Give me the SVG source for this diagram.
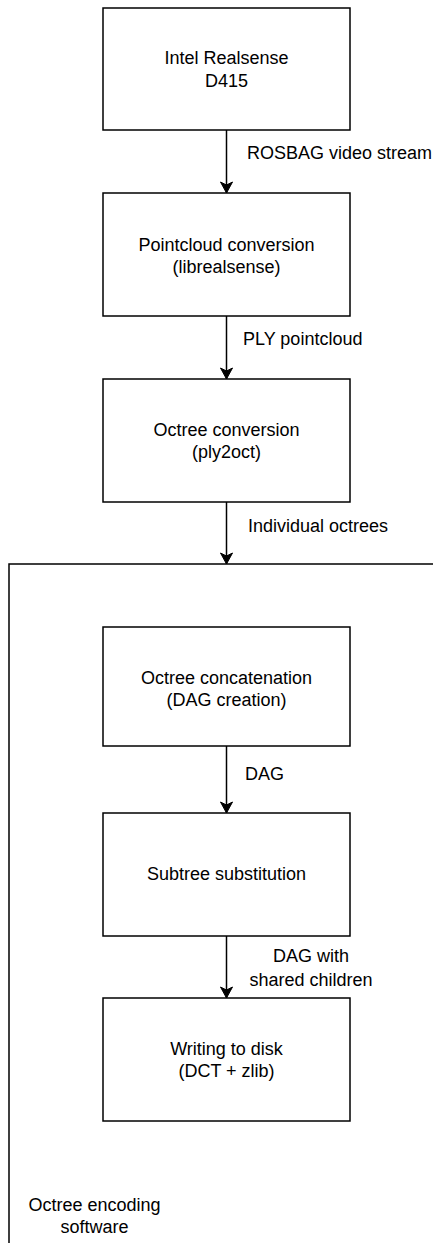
<svg xmlns="http://www.w3.org/2000/svg" width="433" height="1243" viewBox="0 0 433 1243">
  <style>
    .box { fill: #ffffff; stroke: #000000; stroke-width: 1.5; }
    .container { fill: none; stroke: #000000; stroke-width: 1.5; }
    .edge { fill: none; stroke: #000000; stroke-width: 1.5; }
    text { font-family: "Liberation Sans", Arial, sans-serif; font-size: 18px; fill: #000000; }
    .c { text-anchor: middle; }
  </style>
  <defs>
    <marker id="arrow" markerUnits="userSpaceOnUse" viewBox="-12 -7 14 14" markerWidth="14" markerHeight="14" refX="0" refY="0" orient="auto">
      <path d="M-11,-6 L0,0 L-11,6 L-8,0 Z" fill="#000000" stroke="#000000" stroke-width="1"/>
    </marker>
  </defs>
  <rect width="433" height="1243" fill="#ffffff"/>

  <g id="container">
    <rect class="container" x="9" y="564" width="600" height="800"/>
    <text class="c" x="94.5" y="1211">Octree encoding</text>
    <text class="c" x="94.5" y="1233">software</text>
  </g>

  <g id="connectors">
    <line class="edge" x1="226.5" y1="130" x2="226.5" y2="193" marker-end="url(#arrow)"/>
    <text x="247" y="159">ROSBAG video stream</text>
    <line class="edge" x1="226.5" y1="316" x2="226.5" y2="379" marker-end="url(#arrow)"/>
    <text x="243" y="345">PLY pointcloud</text>
    <line class="edge" x1="226.5" y1="502" x2="226.5" y2="564" marker-end="url(#arrow)"/>
    <text x="248" y="532">Individual octrees</text>
    <line class="edge" x1="226.5" y1="746" x2="226.5" y2="813" marker-end="url(#arrow)"/>
    <text x="245" y="780">DAG</text>
    <line class="edge" x1="226.5" y1="936" x2="226.5" y2="998" marker-end="url(#arrow)"/>
    <text class="c" x="311" y="962">DAG with</text>
    <text class="c" x="311" y="986">shared children</text>
  </g>

  <g id="node-realsense">
    <rect class="box" x="103" y="8" width="247" height="122"/>
    <text class="c" x="226.5" y="64">Intel Realsense</text>
    <text class="c" x="226.5" y="87">D415</text>
  </g>
  <g id="node-pointcloud">
    <rect class="box" x="103" y="193" width="247" height="123"/>
    <text class="c" x="226.5" y="251">Pointcloud conversion</text>
    <text class="c" x="226.5" y="273">(librealsense)</text>
  </g>
  <g id="node-octree">
    <rect class="box" x="103" y="379" width="247" height="123"/>
    <text class="c" x="226.5" y="436">Octree conversion</text>
    <text class="c" x="226.5" y="458">(ply2oct)</text>
  </g>
  <g id="node-concat">
    <rect class="box" x="103" y="627" width="247" height="119"/>
    <text class="c" x="226.5" y="684">Octree concatenation</text>
    <text class="c" x="226.5" y="706">(DAG creation)</text>
  </g>
  <g id="node-subtree">
    <rect class="box" x="103" y="813" width="247" height="123"/>
    <text class="c" x="226.5" y="880">Subtree substitution</text>
  </g>
  <g id="node-writing">
    <rect class="box" x="103" y="998" width="247" height="123"/>
    <text class="c" x="226.5" y="1055">Writing to disk</text>
    <text class="c" x="226.5" y="1077">(DCT + zlib)</text>
  </g>
</svg>
